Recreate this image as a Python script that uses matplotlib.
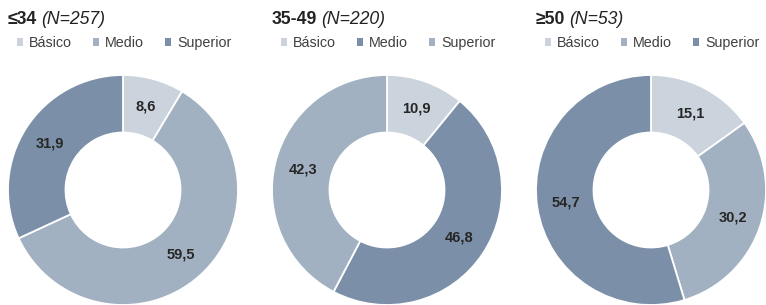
import matplotlib.pyplot as plt

plt.rcParams['font.family'] = ['Liberation Sans', 'DejaVu Sans']

W, H = 766, 305

# data
groups = ['≤34', '35-49', '≥50']
sizes = ['(N=257)', '(N=220)', '(N=53)']
cats = ['Básico', 'Medio', 'Superior']
basico = [8.6, 10.9, 15.1]
medio = [59.5, 46.8, 30.2]
superior = [31.9, 42.3, 54.7]

light = '#CBD3DD'
mid = '#A1B1C1'
dark = '#7B90A8'
# colour per panel (Medio / Superior swap in the middle panel)
panel_colors = [[light, mid, dark], [light, dark, mid], [light, mid, dark]]

left_px = [8, 272, 536]

fig = plt.figure(figsize=(W / 100, H / 100), dpi=100)

for i in range(3):
    vals = [basico[i], medio[i], superior[i]]
    ax = fig.add_axes([left_px[i] / W, 0, 230 / W, 230 / H])
    wedges, texts = ax.pie(vals, colors=panel_colors[i], startangle=90, counterclock=False,
                           labels=[f'{v:.1f}'.replace('.', ',') for v in vals],
                           labeldistance=0.75,
                           wedgeprops=dict(width=0.5, edgecolor='white', linewidth=1.3),
                           textprops=dict(fontsize=10.5, fontweight='bold', color='#262626'))
    for t in texts:
        t.set_ha('center')
        t.set_va('center')
    ax.set_xlim(-1, 1)
    ax.set_ylim(-1, 1)

    # title: bold group + italic N
    t1 = fig.text(left_px[i] / W, 1 - 24 / H, groups[i], fontsize=12.7, fontweight='bold',
                  color='#222222', va='baseline', ha='left')
    ax.annotate(sizes[i], xy=(1, 0), xycoords=t1, xytext=(3, 0), textcoords='offset points',
                fontsize=12.7, fontstyle='italic', color='#222222', va='bottom', ha='left')

    leg = ax.legend(wedges, cats, loc='center left',
                    bbox_to_anchor=((left_px[i] + 9) / W, 1 - 43 / H),
                    bbox_transform=fig.transFigure, ncol=3, frameon=False, borderpad=0,
                    borderaxespad=0, handlelength=0.42, handleheight=0.42, handletextpad=0.4,
                    columnspacing=1.5, fontsize=10.3, labelcolor='#404040')
    for h in leg.legend_handles:
        h.set_edgecolor('none')
        h.set_linewidth(0)

plt.savefig('out.png', dpi=100)
